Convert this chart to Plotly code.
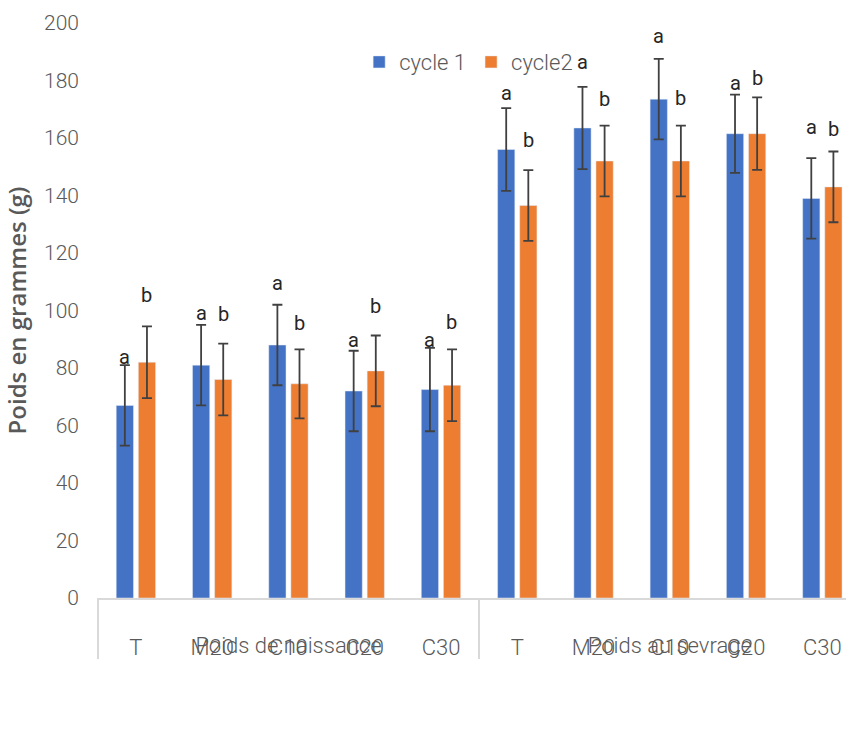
import plotly.graph_objects as go

groups = ["Poids de naissance"] * 5 + ["Poids au sevrage"] * 5
treatments = ["T", "M20", "C10", "C20", "C30"] * 2

cycle1 = [67, 81, 88, 72, 72.5, 156, 163.5, 173.5, 161.5, 139]
cycle1_err = [14, 14, 14, 14, 14.5, 14.4, 14.3, 14, 13.6, 14]
cycle2 = [82, 76, 74.5, 79, 74, 136.5, 152, 152, 161.5, 143]
cycle2_err = [12.5, 12.5, 12, 12.3, 12.5, 12.3, 12.3, 12.3, 12.6, 12.3]

letters1 = ["a"] * 10
letters1_y = [84, 99, 109.5, 89.7, 89.7, 175.8, 186.4, 195.6, 179.2, 163.7]
letters2 = ["b"] * 10
letters2_y = [105.4, 98.7, 95.5, 101.6, 96.1, 159.2, 173.7, 174, 180.9, 163]

BLUE = "#4472C4"
ORANGE = "#ED7D31"
GREY = "#595959"
FONT = "Roboto, sans-serif"

# a leading blank line on the treatment labels pushes both label rows down, as in the reference
x_treat = ["<br>" + t for t in treatments]

err_style = dict(type="data", visible=True, color="#404040", thickness=1.8, width=5)

fig = go.Figure()
fig.add_trace(go.Bar(
    x=[groups, x_treat], y=cycle1, name="cycle 1", marker_color=BLUE,
    error_y=dict(array=cycle1_err, **err_style),
))
fig.add_trace(go.Bar(
    x=[groups, x_treat], y=cycle2, name="cycle2", marker_color=ORANGE,
    error_y=dict(array=cycle2_err, **err_style),
))

annotations = []
for i, (t, yv) in enumerate(zip(letters1, letters1_y)):
    annotations.append(dict(x=i, y=yv, xref="x", yref="y", text=t, showarrow=False,
                            xshift=-11, font=dict(family=FONT, size=20, color="#262626")))
for i, (t, yv) in enumerate(zip(letters2, letters2_y)):
    annotations.append(dict(x=i, y=yv, xref="x", yref="y", text=t, showarrow=False,
                            xshift=11, font=dict(family=FONT, size=20, color="#262626")))

fig.update_layout(
    width=846, height=747,
    margin=dict(l=97, r=0, t=23, b=149),
    paper_bgcolor="white", plot_bgcolor="white",
    barmode="group", bargap=0.42, bargroupgap=0.22,
    font=dict(family=FONT, color=GREY, size=22),
    legend=dict(orientation="h", x=0.35, y=0.932, xanchor="left", yanchor="middle",
                font=dict(family=FONT, size=22, color=GREY, weight=300), bgcolor="rgba(0,0,0,0)",
                itemwidth=30, tracegroupgap=0),
    annotations=annotations,
    showlegend=True,
)
fig.update_yaxes(
    range=[0, 200], dtick=20, showgrid=False, zeroline=False, showline=False,
    ticks="", ticklabelstandoff=17, automargin=False,
    tickfont=dict(family=FONT, size=21, color=GREY, weight=300),
    title=dict(text="Poids en grammes (g)", standoff=10,
               font=dict(family="Open Sans, sans-serif", size=24, color=GREY, weight=600)),
)
fig.update_xaxes(
    type="multicategory", range=[-0.51, 9.31], automargin=False,
    showline=True, linecolor="#d9d9d9", linewidth=1.5,
    showdividers=True, dividercolor="#d9d9d9", dividerwidth=1.5,
    ticks="",
    tickfont=dict(family=FONT, size=22, color=GREY, weight=300),
    showgrid=False, zeroline=False,
)

fig.write_html("out.html", config={"displayModeBar": False},
               post_script="document.body.style.margin='0';")
